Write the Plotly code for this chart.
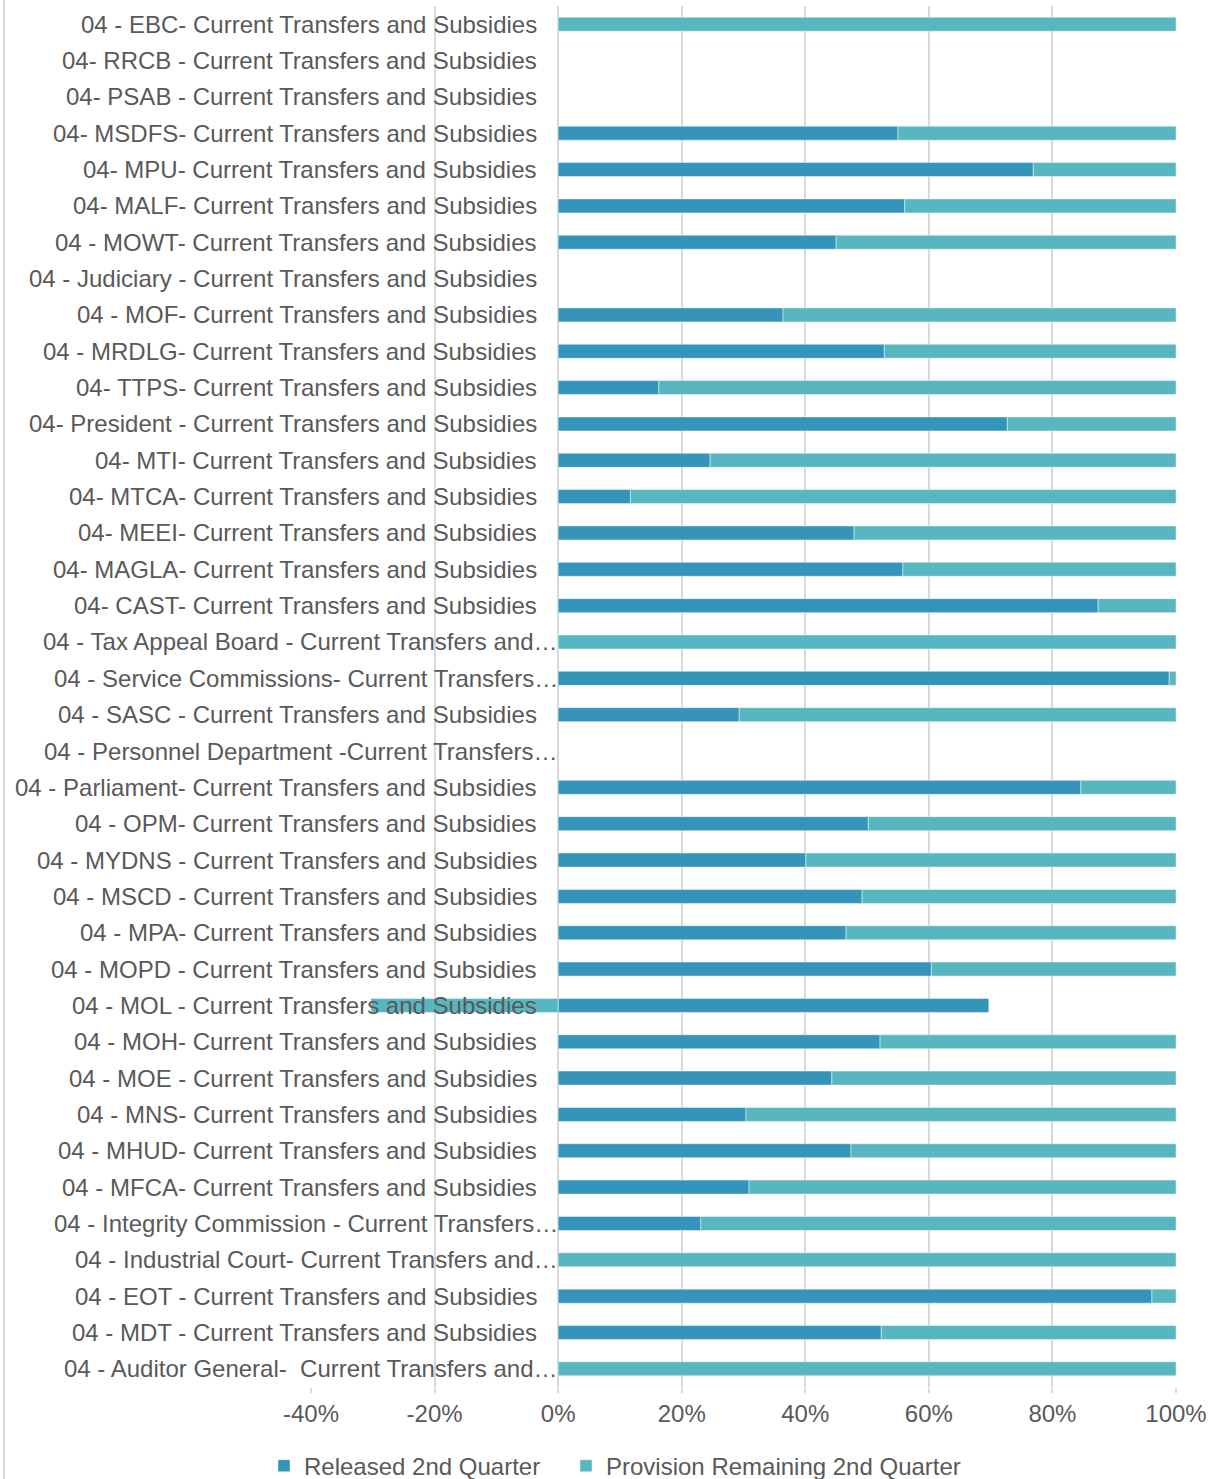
import plotly.graph_objects as go

categories = [
    "04 - EBC- Current Transfers and Subsidies",
    "04- RRCB - Current Transfers and Subsidies",
    "04- PSAB - Current Transfers and Subsidies",
    "04- MSDFS- Current Transfers and Subsidies",
    "04- MPU- Current Transfers and Subsidies",
    "04- MALF- Current Transfers and Subsidies",
    "04 - MOWT- Current Transfers and Subsidies",
    "04 - Judiciary - Current Transfers and Subsidies",
    "04 - MOF- Current Transfers and Subsidies",
    "04 - MRDLG- Current Transfers and Subsidies",
    "04- TTPS- Current Transfers and Subsidies",
    "04- President - Current Transfers and Subsidies",
    "04- MTI- Current Transfers and Subsidies",
    "04- MTCA- Current Transfers and Subsidies",
    "04- MEEI- Current Transfers and Subsidies",
    "04- MAGLA- Current Transfers and Subsidies",
    "04- CAST- Current Transfers and Subsidies",
    "04 - Tax Appeal Board - Current Transfers and…",
    "04 - Service Commissions- Current Transfers…",
    "04 - SASC - Current Transfers and Subsidies",
    "04 - Personnel Department -Current Transfers…",
    "04 - Parliament- Current Transfers and Subsidies",
    "04 - OPM- Current Transfers and Subsidies",
    "04 - MYDNS - Current Transfers and Subsidies",
    "04 - MSCD - Current Transfers and Subsidies",
    "04 - MPA- Current Transfers and Subsidies",
    "04 - MOPD - Current Transfers and Subsidies",
    "04 - MOL - Current Transfers and Subsidies",
    "04 - MOH- Current Transfers and Subsidies",
    "04 - MOE - Current Transfers and Subsidies",
    "04 - MNS- Current Transfers and Subsidies",
    "04 - MHUD- Current Transfers and Subsidies",
    "04 - MFCA- Current Transfers and Subsidies",
    "04 - Integrity Commission - Current Transfers…",
    "04 - Industrial Court- Current Transfers and…",
    "04 - EOT - Current Transfers and Subsidies",
    "04 - MDT - Current Transfers and Subsidies",
    "04 - Auditor General-  Current Transfers and…",
]

# percent of total (None = no data shown)
released = [
    None, None, None, 55.0, 76.9, 56.1, 45.0, None, 36.4, 52.8,
    16.3, 72.7, 24.6, 11.7, 47.9, 55.8, 87.4, None, 98.9, 29.3,
    None, 84.6, 50.2, 40.1, 49.2, 46.6, 60.4, 69.7, 52.1, 44.3,
    30.4, 47.4, 30.9, 23.1, None, 96.1, 52.3, None,
]
remaining = [
    100.0, None, None, 45.0, 23.1, 43.9, 55.0, None, 63.6, 47.2,
    83.7, 27.3, 75.4, 88.3, 52.1, 44.2, 12.6, 100.0, 1.1, 70.7,
    None, 15.4, 49.8, 59.9, 50.8, 53.4, 39.6, -30.3, 47.9, 55.7,
    69.6, 52.6, 69.1, 76.9, 100.0, 3.9, 47.7, 100.0,
]

x_tickvals = [-40, -20, 0, 20, 40, 60, 80, 100]
x_ticktext = ["-40%", "-20%", "0%", "20%", "40%", "60%", "80%", "100%"]

series_names = ["Released 2nd Quarter", "Provision Remaining 2nd Quarter"]
colors = ["#3494BA", "#58B6C0"]

FONT = "Liberation Sans, Arial, sans-serif"
TXT = "#595959"
GRID = "#D9D9D9"
FS = 24

W, H = 1212, 1479
L, R, T, B = 311, 36, 6, 92
PW, PH = W - L - R, H - T - B

fig = go.Figure()
for name, vals, col, lg in zip(series_names, [released, remaining], colors,
                               ["legend", "legend2"]):
    fig.add_trace(go.Bar(
        y=categories, x=vals, name=name, orientation="h", legend=lg,
        marker=dict(color=col, line=dict(color="rgba(255,255,255,0.45)", width=1)),
    ))

# category labels, right aligned near the 0% line
for c in categories:
    trunc = c.endswith("…")
    fig.add_annotation(
        x=0, y=c, xref="x", yref="y", text=c, showarrow=False,
        xanchor="right", yanchor="middle", xshift=2 if trunc else -19,
        font=dict(family=FONT, size=FS, color=TXT),
    )

# chart-area left border
fig.add_shape(type="line", xref="paper", yref="paper",
              x0=(4 - L) / PW, x1=(4 - L) / PW,
              y0=-B / PH, y1=1 + T / PH,
              line=dict(color=GRID, width=2))

leg_common = dict(orientation="h", xanchor="left", y=-0.041, yanchor="top",
                  font=dict(family=FONT, size=FS, color=TXT), itemwidth=30,
                  bgcolor="rgba(0,0,0,0)")

fig.update_layout(
    width=W, height=H,
    margin=dict(l=L, r=R, t=T, b=B, autoexpand=False),
    barmode="relative", bargap=0.615,
    paper_bgcolor="white", plot_bgcolor="white",
    font=dict(family=FONT, size=FS, color=TXT),
    showlegend=True,
    legend=dict(x=(264 - L) / PW, **leg_common),
    legend2=dict(x=(566 - L) / PW, **leg_common),
    xaxis=dict(range=[-40, 100], tickvals=x_tickvals, ticktext=x_ticktext,
               showgrid=True, gridcolor=GRID, gridwidth=2,
               zeroline=True, zerolinecolor=GRID, zerolinewidth=2,
               ticks="outside", ticklen=5, tickcolor=GRID, tickwidth=2,
               ticklabelstandoff=0, showline=False, automargin=False,
               tickfont=dict(family=FONT, size=FS, color=TXT)),
    yaxis=dict(autorange="reversed", showticklabels=False, showgrid=False,
               zeroline=False, showline=False, ticks="", automargin=False),
)

fig.write_html("out.html", config={"displayModeBar": False},
               post_script="document.body.style.margin='0';")
